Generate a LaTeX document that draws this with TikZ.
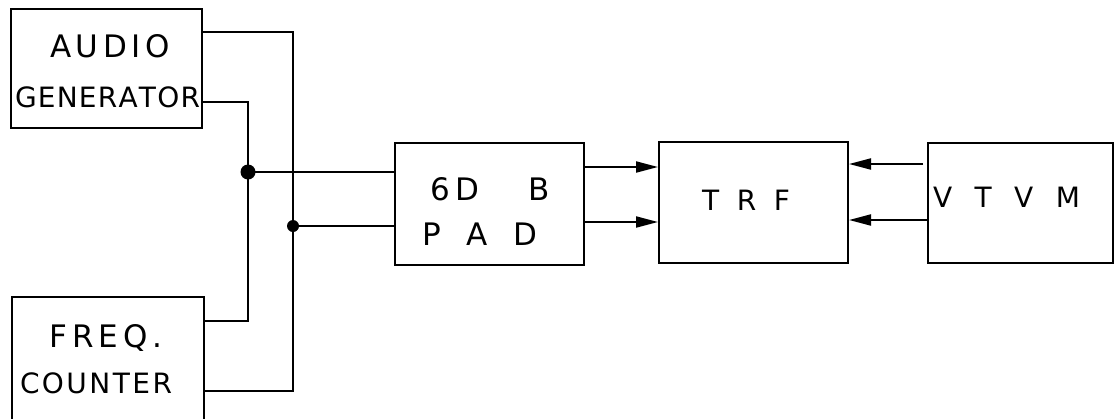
\documentclass[tikz,border=0pt]{standalone}
\usepackage{fontspec}
\setmainfont{DejaVu Sans}
\usetikzlibrary{arrows.meta,calc}
\newcommand\spreadtxt[2]{\makebox[#1][s]{#2}}
\begin{document}
\begin{tikzpicture}[x=1pt,y=-1pt,
  box/.style={draw, line width=2pt, inner sep=0pt},
  lbl/.style={anchor=base, inner sep=0pt, font=\fontsize{31}{31}\selectfont},
  lbls/.style={anchor=base, inner sep=0pt, font=\fontsize{28}{28}\selectfont},
  wire/.style={line width=2pt},
  arr/.style={line width=2pt, -{Triangle[length=22pt,width=11pt]}},
  dotj/.style={circle, fill, inner sep=0pt, minimum size=12pt}]
\useasboundingbox (0,0) rectangle (1118,418);
\clip (0,0) rectangle (1118,418);
\fill[white] (0,0) rectangle (1118,418);
% boxes
\node[box, minimum width=191pt, minimum height=119pt] (audio) at (106.5,68.5) {};
\node[box, minimum width=192pt, minimum height=132pt] (freq) at (108,363) {};
\node[box, minimum width=189pt, minimum height=122pt] (pad) at (489.5,204) {};
\node[box, minimum width=189pt, minimum height=121pt] (trf) at (753.5,202.5) {};
\node[box, minimum width=185pt, minimum height=120pt] (vtvm) at (1020.5,203) {};
% labels
\node[lbl] (t1) at (110,57) {\spreadtxt{120pt}{A\hfill U\hfill D\hfill I\hfill O}};
\node[lbls] (t2) at (107.5,107) {\spreadtxt{185pt}{G\hfill E\hfill N\hfill E\hfill R\hfill A\hfill T\hfill O\hfill R}};
\node[lbl] (t3) at (106,347) {\spreadtxt{113pt}{F\hfill R\hfill E\hfill Q\hfill .}};
\node[lbls] (t4) at (96,393) {\spreadtxt{152pt}{C\hfill O\hfill U\hfill N\hfill T\hfill E\hfill R}};
\node[lbl] (t5) at (490,200) {\spreadtxt{120pt}{6\hspace{6pt}D\hfill B}};
\node[lbl] (t6) at (479.5,245) {\spreadtxt{115pt}{P\hfill A\hfill D}};
\node[lbls] (t7) at (746,210) {\spreadtxt{88pt}{T\hfill R\hfill F}};
\node[lbls] (t8) at (1006.5,207) {\spreadtxt{147pt}{V\hfill T\hfill V\hfill M}};
% junctions
\coordinate (j1) at (248,172);
\coordinate (j2) at (293,226);
\draw[wire] ($(audio.north east)+(0,24)$) -| (j2) |- ($(freq.north east)+(0,95)$);
\draw[wire] ($(audio.north east)+(0,94)$) -| (j1) |- ($(freq.north east)+(0,25)$);
\draw[wire] (j1) -- (j1 -| pad.west);
\draw[wire] (j2) -- (j2 -| pad.west);
\node[dotj, minimum size=15pt] (d1) at (j1) {};
\node[dotj] (d2) at (j2) {};
% arrows
\coordinate (po1) at ($(pad.north east)+(0,25)$);
\coordinate (po2) at ($(pad.north east)+(0,80)$);
\draw[arr] (po1) -- (po1 -| trf.west);
\draw[arr] (po2) -- (po2 -| trf.west);
\coordinate (vo1) at ($(vtvm.north west)+(-4,22)$);
\coordinate (vo2) at ($(vtvm.north west)+(0,78)$);
\draw[arr] (vo1) -- (vo1 -| trf.east);
\draw[arr] (vo2) -- (vo2 -| trf.east);
\end{tikzpicture}
\end{document}
